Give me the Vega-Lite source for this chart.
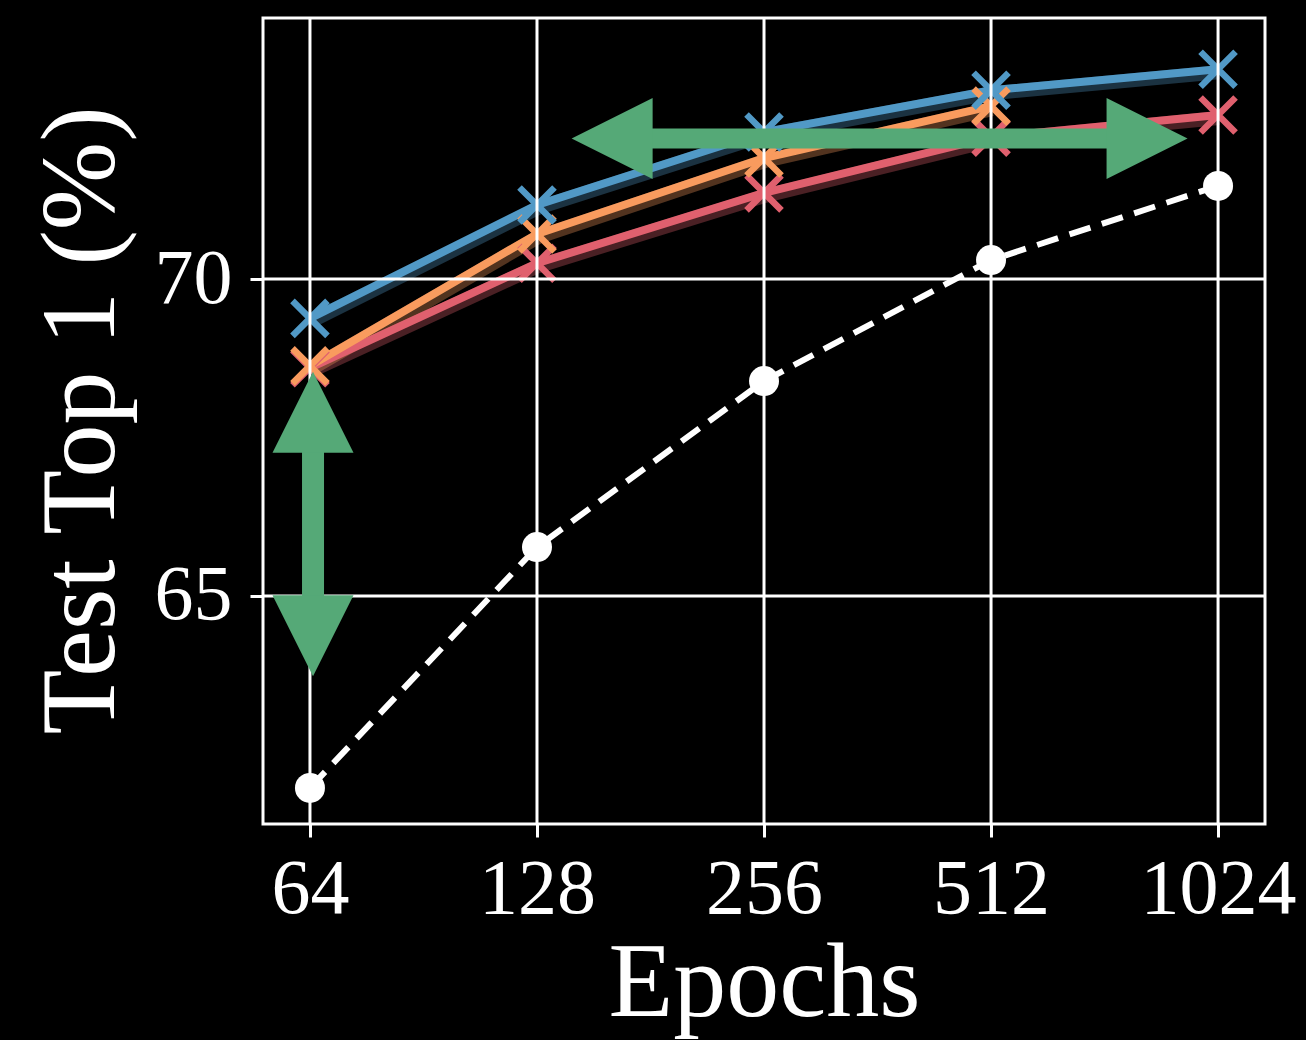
{
  "$schema": "https://vega.github.io/schema/vega-lite/v6.json",
  "width": 1002,
  "height": 806,
  "autosize": {"type": "none"},
  "padding": {"left": 263, "top": 18, "right": 41, "bottom": 216},
  "background": "black",
  "config": {
    "view": {"stroke": "white", "strokeWidth": 3},
    "font": "Liberation Serif"
  },
  "datasets": {
    "baseline": [
      {"epochs": 64, "acc": 61.97},
      {"epochs": 128, "acc": 65.77},
      {"epochs": 256, "acc": 68.39},
      {"epochs": 512, "acc": 70.30},
      {"epochs": 1024, "acc": 71.47}
    ],
    "methods": [
      {"series": "C", "epochs": 64, "acc": 68.60},
      {"series": "C", "epochs": 128, "acc": 70.25},
      {"series": "C", "epochs": 256, "acc": 71.36},
      {"series": "C", "epochs": 512, "acc": 72.24},
      {"series": "C", "epochs": 1024, "acc": 72.59},
      {"series": "B", "epochs": 64, "acc": 68.63},
      {"series": "B", "epochs": 128, "acc": 70.71},
      {"series": "B", "epochs": 256, "acc": 71.91},
      {"series": "B", "epochs": 512, "acc": 72.73},
      {"series": "A", "epochs": 64, "acc": 69.38},
      {"series": "A", "epochs": 128, "acc": 71.17},
      {"series": "A", "epochs": 256, "acc": 72.32},
      {"series": "A", "epochs": 512, "acc": 72.98},
      {"series": "A", "epochs": 1024, "acc": 73.31}
    ],
    "xgrid": [{"epochs": 64}, {"epochs": 128}, {"epochs": 256}, {"epochs": 512}, {"epochs": 1024}],
    "ygrid": [{"acc": 65}, {"acc": 70}],
    "hshaft": [{"epochs": 161, "epochs2": 824, "acc": 72.22}],
    "vshaft": [{"epochs": 64.6, "acc": 67.9, "acc2": 64.37}],
    "heads": [
      {"dir": "left", "epochs": 161, "acc": 72.22},
      {"dir": "right", "epochs": 824.4, "acc": 72.22},
      {"dir": "up", "epochs": 64.6, "acc": 67.9},
      {"dir": "down", "epochs": 64.6, "acc": 64.37}
    ]
  },
  "layer": [
    {
      "data": {"name": "baseline"},
      "mark": {"type": "line", "color": "white", "strokeWidth": 6, "strokeDash": [22, 12]},
      "encoding": {
        "x": {
          "field": "epochs",
          "type": "quantitative",
          "scale": {"type": "log", "base": 2, "domain": [55.45, 1181.8], "nice": false, "zero": false},
          "axis": {
            "title": "Epochs",
            "values": [64, 128, 256, 512, 1024],
            "format": "d",
            "labelFont": "Liberation Serif",
            "labelFontSize": 78,
            "labelColor": "white",
            "labelBaseline": "alphabetic",
            "labelPadding": 75,
            "labelFlush": false,
            "labelOverlap": false,
            "tickColor": "white",
            "tickSize": 13,
            "tickWidth": 3,
            "grid": false,
            "domain": false,
            "titleFont": "Liberation Serif",
            "titleFontSize": 106,
            "titleFontWeight": "normal",
            "titleColor": "white",
            "titleBaseline": "alphabetic",
            "titleX": 501,
            "titleY": 191
          }
        },
        "y": {
          "field": "acc",
          "type": "quantitative",
          "scale": {"domain": [61.4, 74.12], "nice": false, "zero": false},
          "axis": {
            "title": "Test Top 1 (%)",
            "values": [65, 70],
            "format": "d",
            "labelFont": "Liberation Serif",
            "labelFontSize": 78,
            "labelColor": "white",
            "labelBaseline": "middle",
            "labelPadding": 18,
            "labelFlush": false,
            "labelOverlap": false,
            "tickColor": "white",
            "tickSize": 13,
            "tickWidth": 3,
            "grid": false,
            "domain": false,
            "titleFont": "Liberation Serif",
            "titleFontSize": 106,
            "titleFontWeight": "normal",
            "titleColor": "white",
            "titleAngle": 270,
            "titleAlign": "center",
            "titleBaseline": "alphabetic",
            "titleX": -150,
            "titleY": 402
          }
        }
      }
    },
    {
      "data": {"name": "baseline"},
      "mark": {"type": "point", "shape": "circle", "filled": true, "color": "white", "opacity": 1, "size": 900},
      "encoding": {
        "x": {"field": "epochs", "type": "quantitative"},
        "y": {"field": "acc", "type": "quantitative"}
      }
    },
    {
      "data": {"name": "methods"},
      "mark": {"type": "line", "strokeWidth": 14, "opacity": 0.33, "xOffset": 1, "yOffset": 3},
      "encoding": {
        "x": {"field": "epochs", "type": "quantitative"},
        "y": {"field": "acc", "type": "quantitative"},
        "color": {"field": "series", "type": "nominal", "scale": {"domain": ["C", "B", "A"], "range": ["#e0606e", "#f99b5e", "#5199c6"]}, "legend": null}
      }
    },
    {
      "data": {"name": "methods"},
      "mark": {"type": "line", "strokeWidth": 8},
      "encoding": {
        "x": {"field": "epochs", "type": "quantitative"},
        "y": {"field": "acc", "type": "quantitative"},
        "color": {"field": "series", "type": "nominal", "legend": null}
      }
    },
    {
      "data": {"name": "methods"},
      "mark": {"type": "point", "shape": "M-1,-1L1,1M1,-1L-1,1", "filled": false, "strokeWidth": 6.5, "opacity": 1, "size": 1225},
      "encoding": {
        "x": {"field": "epochs", "type": "quantitative"},
        "y": {"field": "acc", "type": "quantitative"},
        "color": {"field": "series", "type": "nominal", "legend": null}
      }
    },
    {
      "data": {"name": "xgrid"},
      "mark": {"type": "rule", "color": "white", "strokeWidth": 3},
      "encoding": {
        "x": {"field": "epochs", "type": "quantitative"}
      }
    },
    {
      "data": {"name": "ygrid"},
      "mark": {"type": "rule", "color": "white", "strokeWidth": 3},
      "encoding": {
        "y": {"field": "acc", "type": "quantitative"}
      }
    },
    {
      "data": {"name": "hshaft"},
      "mark": {"type": "rule", "color": "#55a977", "strokeWidth": 20},
      "encoding": {
        "x": {"field": "epochs", "type": "quantitative"},
        "x2": {"field": "epochs2"},
        "y": {"field": "acc", "type": "quantitative"}
      }
    },
    {
      "data": {"name": "vshaft"},
      "mark": {"type": "rule", "color": "#55a977", "strokeWidth": 22},
      "encoding": {
        "x": {"field": "epochs", "type": "quantitative"},
        "y": {"field": "acc", "type": "quantitative"},
        "y2": {"field": "acc2"}
      }
    },
    {
      "data": {"name": "heads"},
      "mark": {"type": "point", "filled": true, "color": "#55a977", "opacity": 1, "size": 6561, "strokeWidth": 0},
      "encoding": {
        "x": {"field": "epochs", "type": "quantitative"},
        "y": {"field": "acc", "type": "quantitative"},
        "shape": {
          "field": "dir",
          "type": "nominal",
          "scale": {
            "domain": ["left", "right", "up", "down"],
            "range": ["M1,-1L-1,0L1,1Z", "M-1,-1L1,0L-1,1Z", "M-1,1L0,-1L1,1Z", "M-1,-1L0,1L1,-1Z"]
          },
          "legend": null
        }
      }
    }
  ]
}
